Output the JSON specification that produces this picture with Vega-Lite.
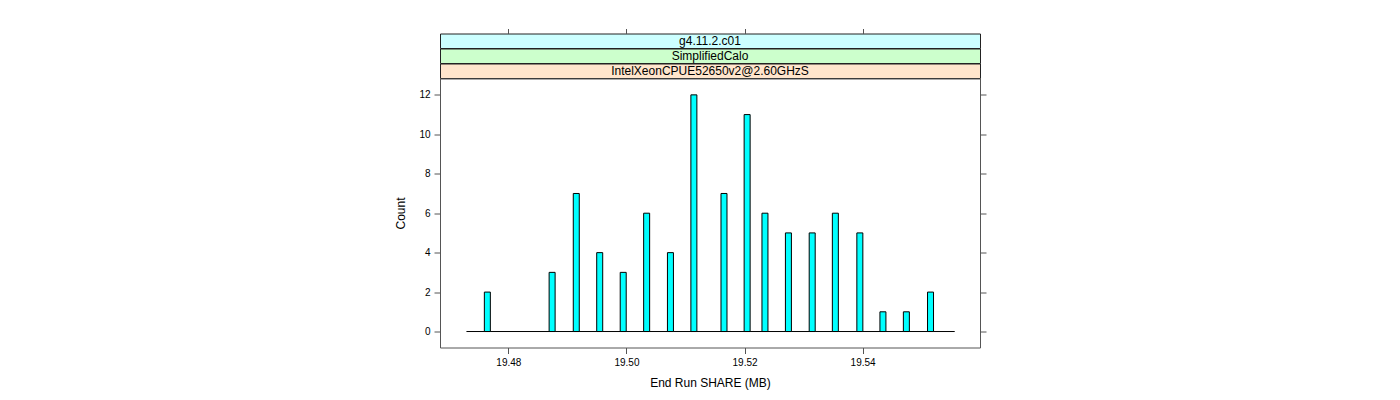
{
  "$schema": "https://vega.github.io/schema/vega-lite/v6.json",
  "padding": {"left": 394, "top": 27.5, "right": 5, "bottom": 5},
  "background": "white",
  "spacing": 0,
  "bounds": "flush",
  "config": {
    "font": "Liberation Sans",
    "concat": {"spacing": 0},
    "scale": {"continuousPadding": 0},
    "axis": {
      "labelFont": "Liberation Sans",
      "titleFont": "Liberation Sans",
      "labelFontSize": 10,
      "titleFontSize": 12,
      "titleFontWeight": "normal",
      "labelColor": "#000000",
      "titleColor": "#000000",
      "tickColor": "#555555",
      "tickSize": 6,
      "domain": false,
      "grid": false
    },
    "text": {"font": "Liberation Sans"}
  },
  "datasets": {
    "hist": [
      {"share": 19.47644, "count": 2},
      {"share": 19.48741, "count": 3},
      {"share": 19.49150, "count": 7},
      {"share": 19.49547, "count": 4},
      {"share": 19.49945, "count": 3},
      {"share": 19.50342, "count": 6},
      {"share": 19.50745, "count": 4},
      {"share": 19.51142, "count": 12},
      {"share": 19.51652, "count": 7},
      {"share": 19.52044, "count": 11},
      {"share": 19.52346, "count": 6},
      {"share": 19.52743, "count": 5},
      {"share": 19.53146, "count": 5},
      {"share": 19.53538, "count": 6},
      {"share": 19.53953, "count": 5},
      {"share": 19.54344, "count": 1},
      {"share": 19.54741, "count": 1},
      {"share": 19.55150, "count": 2}
    ],
    "base": [{"from": 19.4729, "to": 19.5556, "level": 0}]
  },
  "vconcat": [
    {
      "width": 540,
      "height": 14.5,
      "view": {"fill": "#CCFFFF", "stroke": "#222222"},
      "layer": [
        {
          "data": {"values": [{"label": "g4.11.2.c01"}]},
          "mark": {"type": "text", "fontSize": 12, "baseline": "middle", "align": "center", "color": "#000000"},
          "encoding": {"text": {"field": "label"}}
        },
        {
          "data": {"name": "hist"},
          "mark": {"type": "point", "opacity": 0},
          "encoding": {
            "x": {
              "field": "share", "type": "quantitative",
              "scale": {"domain": [19.46842, 19.55988], "nice": false, "zero": false, "padding": 0},
              "axis": {"orient": "top", "labels": false, "title": null, "tickSize": 5, "values": [19.48, 19.5, 19.52, 19.54]}
            }
          }
        }
      ]
    },
    {
      "width": 540,
      "height": 14.5,
      "view": {"fill": "#CCFFCC", "stroke": "#222222"},
      "data": {"values": [{"label": "SimplifiedCalo"}]},
      "mark": {"type": "text", "fontSize": 12, "baseline": "middle", "align": "center", "color": "#000000"},
      "encoding": {"text": {"field": "label"}}
    },
    {
      "width": 540,
      "height": 14.5,
      "view": {"fill": "#FFE5CC", "stroke": "#222222"},
      "data": {"values": [{"label": "IntelXeonCPUE52650v2@2.60GHzS"}]},
      "mark": {"type": "text", "fontSize": 12, "baseline": "middle", "align": "center", "color": "#000000"},
      "encoding": {"text": {"field": "label"}}
    },
    {
      "width": 540,
      "height": 269,
      "view": {"stroke": "#555555"},
      "layer": [
        {
          "data": {"name": "base"},
          "mark": {"type": "rule", "color": "#000000", "strokeWidth": 1},
          "encoding": {
            "x": {
              "field": "from", "type": "quantitative",
              "scale": {"domain": [19.46842, 19.55988], "nice": false, "zero": false, "padding": 0},
              "axis": {"orient": "bottom", "title": "End Run SHARE (MB)", "values": [19.48, 19.5, 19.52, 19.54], "format": ".2f", "labelPadding": 4, "titlePadding": 10}
            },
            "x2": {"field": "to"},
            "y": {
              "field": "level", "type": "quantitative",
              "scale": {"domain": [-0.81, 12.83], "nice": false, "zero": false, "padding": 0},
              "axis": {"orient": "left", "title": "Count", "values": [0, 2, 4, 6, 8, 10, 12], "labelPadding": 4, "titlePadding": 11}
            }
          }
        },
        {
          "data": {"name": "hist"},
          "mark": {"type": "bar", "size": 6, "fill": "#00FFFF", "stroke": "#000000", "strokeWidth": 1},
          "encoding": {
            "x": {"field": "share", "type": "quantitative"},
            "y": {"field": "count", "type": "quantitative", "axis": null},
            "y2": {"datum": 0}
          }
        },
        {
          "data": {"name": "hist"},
          "mark": {"type": "point", "opacity": 0},
          "encoding": {
            "x": {"field": "share", "type": "quantitative"},
            "y": {
              "field": "count", "type": "quantitative",
              "axis": {"orient": "right", "labels": false, "title": null, "values": [0, 2, 4, 6, 8, 10, 12]}
            }
          }
        }
      ],
      "resolve": {"axis": {"y": "independent"}}
    }
  ]
}
